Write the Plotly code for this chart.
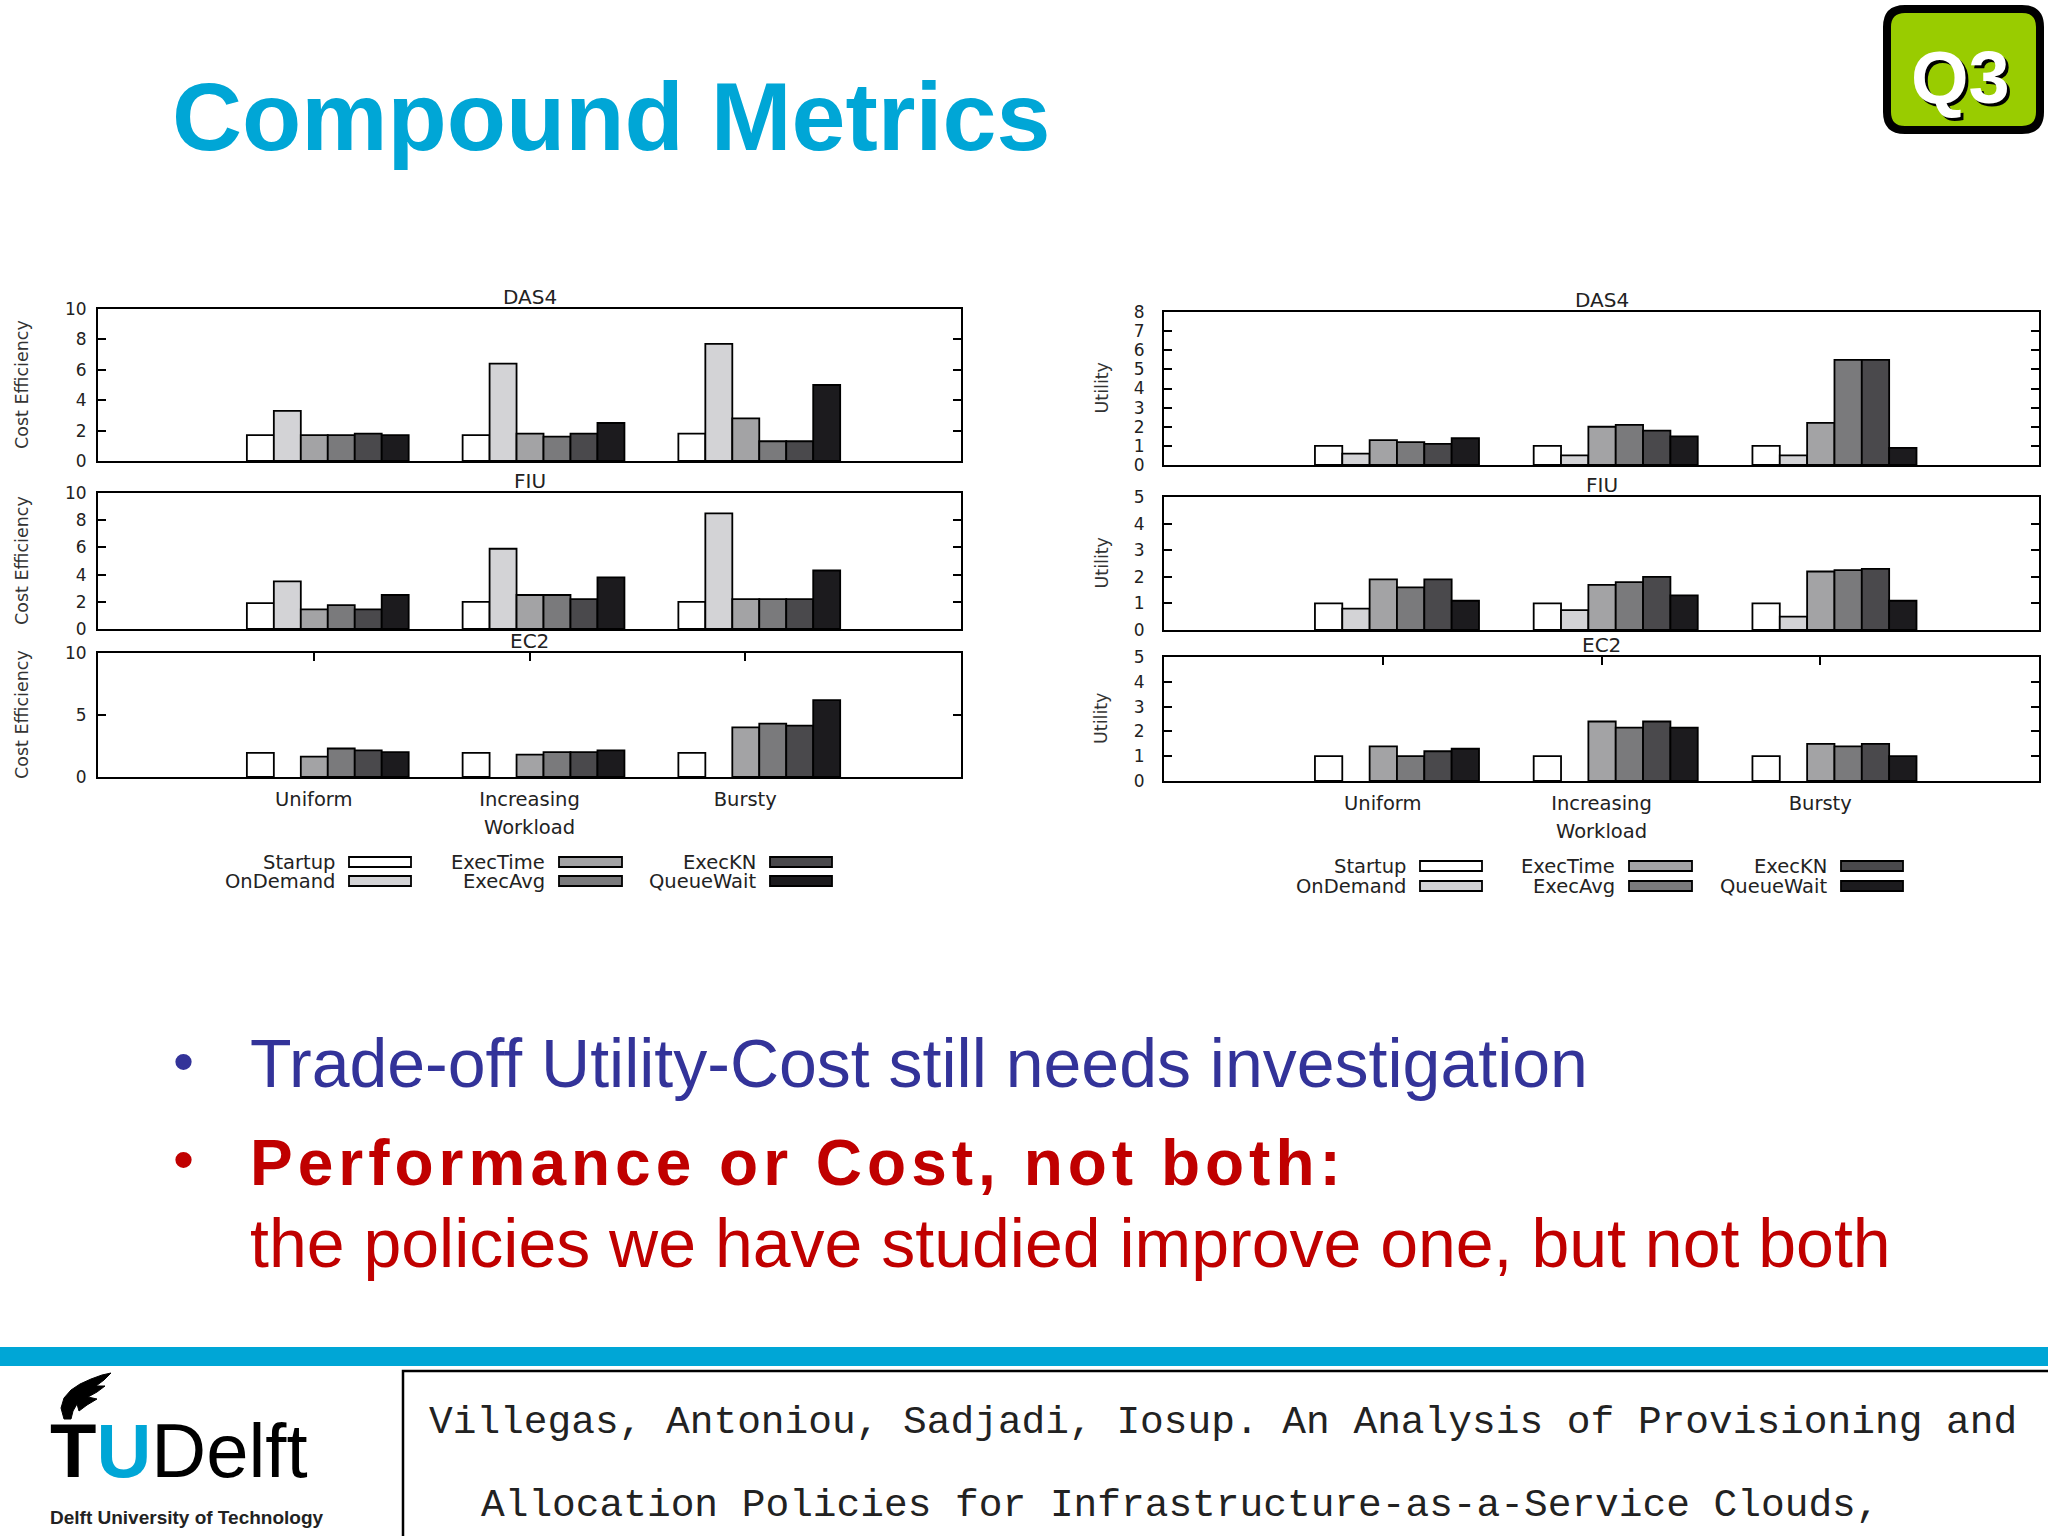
import plotly.graph_objects as go

# ---------------- data ----------------
categories = ["Uniform", "Increasing", "Bursty"]
policies = ["Startup", "OnDemand", "ExecTime", "ExecAvg", "ExecKN", "QueueWait"]
policy_colors = ["#ffffff", "#d3d3d6", "#a3a3a5", "#7a7a7c", "#4a494c", "#1c1b1e"]

# Cost Efficiency (rows follow `policies`, columns follow `categories`)
cost_das4 = [
    [1.7, 1.7, 1.8],
    [3.3, 6.4, 7.7],
    [1.7, 1.8, 2.8],
    [1.7, 1.6, 1.3],
    [1.8, 1.8, 1.3],
    [1.7, 2.5, 5.0],
]
cost_fiu = [
    [1.9, 2.0, 2.0],
    [3.5, 5.9, 8.5],
    [1.45, 2.5, 2.2],
    [1.75, 2.5, 2.2],
    [1.45, 2.2, 2.2],
    [2.5, 3.8, 4.3],
]
cost_ec2 = [
    [1.95, 1.95, 1.95],
    [None, None, None],
    [1.65, 1.8, 4.0],
    [2.3, 2.0, 4.3],
    [2.15, 2.0, 4.15],
    [2.0, 2.15, 6.2],
]
# Utility
util_das4 = [
    [1.0, 1.0, 1.0],
    [0.6, 0.5, 0.5],
    [1.3, 2.0, 2.2],
    [1.2, 2.1, 5.5],
    [1.1, 1.8, 5.5],
    [1.4, 1.5, 0.9],
]
util_fiu = [
    [1.0, 1.0, 1.0],
    [0.8, 0.75, 0.5],
    [1.9, 1.7, 2.2],
    [1.6, 1.8, 2.25],
    [1.9, 2.0, 2.3],
    [1.1, 1.3, 1.1],
]
util_ec2 = [
    [1.0, 1.0, 1.0],
    [None, None, None],
    [1.4, 2.4, 1.5],
    [1.0, 2.15, 1.4],
    [1.2, 2.4, 1.5],
    [1.3, 2.15, 1.0],
]
panel_titles = ["DAS4", "FIU", "EC2"]
left_ytitle = "Cost Efficiency"
right_ytitle = "Utility"
xtitle = "Workload"
left_ranges = [(10, 2), (10, 2), (10, 5)]
right_ranges = [(8, 1), (5, 1), (5, 1)]

# ---------------- geometry helpers ----------------
W, H = 2048, 1536
def px(x):
    return x / W
def py(y):
    return 1 - y / H

FONT = "Liberation Sans, Arial, sans-serif"
CFONT = "DejaVu Sans, sans-serif"
CHART_TXT = "#222222"

left_box_x = (98, 961)
right_box_x = (1164, 2039)
left_rows = [(309, 461), (493, 629), (653, 777)]
right_rows = [(312, 465), (497, 630), (657, 781)]

BAR_W = 0.125
BAR_START = -0.31

fig = go.Figure()
layout_axes = {}
annotations = []
shapes = []

panels = [
    (cost_das4, left_box_x, left_rows[0], left_ranges[0], 0, "left"),
    (cost_fiu, left_box_x, left_rows[1], left_ranges[1], 1, "left"),
    (cost_ec2, left_box_x, left_rows[2], left_ranges[2], 2, "left"),
    (util_das4, right_box_x, right_rows[0], right_ranges[0], 0, "right"),
    (util_fiu, right_box_x, right_rows[1], right_ranges[1], 1, "right"),
    (util_ec2, right_box_x, right_rows[2], right_ranges[2], 2, "right"),
]

for k, (data, bx, by, (ymax, dt), row, side) in enumerate(panels, start=1):
    xid = "x" if k == 1 else f"x{k}"
    yid = "y" if k == 1 else f"y{k}"
    for i, pol in enumerate(policies):
        fig.add_trace(go.Bar(
            x=categories, y=data[i], name=pol,
            marker=dict(color=policy_colors[i], line=dict(color="black", width=1.8)),
            offset=BAR_START + i * BAR_W, width=BAR_W,
            xaxis=xid, yaxis=yid, showlegend=False,
        ))
    bottom = row == 2
    xa = dict(
        domain=[px(bx[0]), px(bx[1])], anchor=yid, type="category",
        categoryorder="array", categoryarray=categories, range=[-1, 3],
        showline=True, linecolor="black", linewidth=2,
        showgrid=False, zeroline=False, automargin=False,
    )
    if bottom:
        xa.update(ticks="inside", ticklen=8, tickwidth=2, tickcolor="black",
                  mirror="ticks", showticklabels=True, layer="below traces",
                  tickfont=dict(family=CFONT, size=19.5, color=CHART_TXT),
                  ticklabelstandoff=4)
    else:
        xa.update(ticks="", mirror=True, showticklabels=False)
    ya = dict(
        domain=[py(by[1]), py(by[0])], anchor=xid, range=[0, ymax],
        tick0=0, dtick=dt, showline=True, linecolor="black", linewidth=2,
        mirror="ticks", ticks="inside", ticklen=8, tickwidth=2, tickcolor="black",
        showgrid=False, zeroline=False, automargin=False,
        tickfont=dict(family=CFONT, size=17, color=CHART_TXT),
        ticklabelstandoff=6 if side == "left" else 14,
    )
    layout_axes["xaxis" if k == 1 else f"xaxis{k}"] = xa
    layout_axes["yaxis" if k == 1 else f"yaxis{k}"] = ya

    cx = (bx[0] + bx[1]) / 2
    annotations.append(dict(text=panel_titles[row], x=px(cx), y=py(by[0] - 12),
                            xref="paper", yref="paper", showarrow=False,
                            xanchor="center", yanchor="middle",
                            font=dict(family=CFONT, size=20, color=CHART_TXT)))
    ytx = 22 if side == "left" else 1101
    annotations.append(dict(text=left_ytitle if side == "left" else right_ytitle,
                            x=px(ytx), y=py((by[0] + by[1]) / 2),
                            xref="paper", yref="paper", showarrow=False,
                            textangle=-90, xanchor="center", yanchor="middle",
                            font=dict(family=CFONT, size=17.5, color="#333333")))
    if bottom:
        annotations.append(dict(text=xtitle, x=px(cx), y=py(by[1] + 50),
                                xref="paper", yref="paper", showarrow=False,
                                xanchor="center", yanchor="middle",
                                font=dict(family=CFONT, size=19.5, color=CHART_TXT)))

# ---------------- custom legends ----------------
legend_specs = [
    ([(349, 411), (559, 622), (770, 832)], [862, 881]),
    ([(1420, 1482), (1629, 1692), (1841, 1903)], [866, 886]),
]
for cols, rows in legend_specs:
    for i, pol in enumerate(policies):
        c0, c1 = cols[i // 2]
        yc = rows[i % 2]
        shapes.append(dict(type="rect", xref="paper", yref="paper",
                           x0=px(c0), x1=px(c1), y0=py(yc + 5), y1=py(yc - 5),
                           line=dict(color="black", width=1.8),
                           fillcolor=policy_colors[i]))
        annotations.append(dict(text=pol, x=px(c0 - 12), y=py(yc),
                                xref="paper", yref="paper", showarrow=False,
                                xanchor="right", yanchor="middle",
                                font=dict(family=CFONT, size=19.5, color=CHART_TXT)))

# ---------------- slide decorations ----------------
annotations.append(dict(text="<b>Compound Metrics</b>", x=px(170), y=py(116),
                        xref="paper", yref="paper", showarrow=False,
                        xanchor="left", yanchor="middle",
                        font=dict(family=FONT, size=97, color="#00a6d6")))

def rounded_path(x0, y0, x1, y1, r):
    pts = [
        f"M {px(x0 + r)} {py(y0)}", f"L {px(x1 - r)} {py(y0)}",
        f"Q {px(x1)} {py(y0)} {px(x1)} {py(y0 + r)}", f"L {px(x1)} {py(y1 - r)}",
        f"Q {px(x1)} {py(y1)} {px(x1 - r)} {py(y1)}", f"L {px(x0 + r)} {py(y1)}",
        f"Q {px(x0)} {py(y1)} {px(x0)} {py(y1 - r)}", f"L {px(x0)} {py(y0 + r)}",
        f"Q {px(x0)} {py(y0)} {px(x0 + r)} {py(y0)}", "Z",
    ]
    return " ".join(pts)

shapes.append(dict(type="path", xref="paper", yref="paper",
                   path=rounded_path(1887, 9, 2040, 130, 18),
                   line=dict(color="black", width=8), fillcolor="#99cc00"))
annotations.append(dict(text="<b>Q3</b>", x=px(1963), y=py(80),
                        xref="paper", yref="paper", showarrow=False,
                        xanchor="center", yanchor="middle",
                        font=dict(family=FONT, size=74, color="black")))
annotations.append(dict(text="<b>Q3</b>", x=px(1960), y=py(77),
                        xref="paper", yref="paper", showarrow=False,
                        xanchor="center", yanchor="middle",
                        font=dict(family=FONT, size=74, color="white")))

BLUE = "#333399"
RED = "#c00000"
annotations.append(dict(text="•", x=px(183), y=py(1061), xref="paper", yref="paper",
                        showarrow=False, xanchor="center", yanchor="middle",
                        font=dict(family=FONT, size=60, color=BLUE)))
annotations.append(dict(text="Trade-off Utility-Cost still needs investigation",
                        x=px(248), y=py(1063), xref="paper", yref="paper",
                        showarrow=False, xanchor="left", yanchor="middle",
                        font=dict(family=FONT, size=68, color=BLUE)))
annotations.append(dict(text="•", x=px(183), y=py(1159), xref="paper", yref="paper",
                        showarrow=False, xanchor="center", yanchor="middle",
                        font=dict(family=FONT, size=60, color=RED)))
annotations.append(dict(text="<b><span style='letter-spacing:5px'>Performance or Cost, not both:</span></b>",
                        x=px(248), y=py(1163), xref="paper", yref="paper",
                        showarrow=False, xanchor="left", yanchor="middle",
                        font=dict(family=FONT, size=64, color=RED)))
annotations.append(dict(text="the policies we have studied improve one, but not both",
                        x=px(248), y=py(1243), xref="paper", yref="paper",
                        showarrow=False, xanchor="left", yanchor="middle",
                        font=dict(family=FONT, size=68, color=RED)))

shapes.append(dict(type="rect", xref="paper", yref="paper", x0=0, x1=1,
                   y0=py(1366), y1=py(1347), line=dict(width=0), fillcolor="#00a6d6"))
shapes.append(dict(type="rect", xref="paper", yref="paper", x0=px(403), x1=px(2060),
                   y0=py(1545), y1=py(1371), line=dict(color="black", width=2.5),
                   fillcolor="white"))
MONO = "Liberation Mono, Courier New, monospace"
annotations.append(dict(text="Villegas, Antoniou, Sadjadi, Iosup. An Analysis of Provisioning and",
                        x=px(427), y=py(1422), xref="paper", yref="paper",
                        showarrow=False, xanchor="left", yanchor="middle",
                        font=dict(family=MONO, size=39.5, color="#222222")))
annotations.append(dict(text="Allocation Policies for Infrastructure-as-a-Service Clouds,",
                        x=px(479), y=py(1505), xref="paper", yref="paper",
                        showarrow=False, xanchor="left", yanchor="middle",
                        font=dict(family=MONO, size=39.5, color="#222222")))

flame_pts = [(64, 1419), (61, 1408), (64, 1398), (71, 1390), (80, 1384), (91, 1379),
             (102, 1375), (111, 1373), (104, 1380), (96, 1386), (105, 1386), (97, 1392),
             (88, 1397), (97, 1399), (87, 1405), (79, 1411), (77, 1404), (73, 1411),
             (71, 1419)]
flame_path = "M " + " L ".join(f"{px(x)} {py(y)}" for x, y in flame_pts) + " Z"
shapes.append(dict(type="path", xref="paper", yref="paper", path=flame_path,
                   line=dict(color="black", width=1), fillcolor="black"))
annotations.append(dict(text="<b>T</b><b><span style='color:#00a6d6'>U</span></b>Delft",
                        x=px(48), y=py(1450), xref="paper", yref="paper",
                        showarrow=False, xanchor="left", yanchor="middle",
                        font=dict(family=FONT, size=76, color="black")))
annotations.append(dict(text="<b>Delft University of Technology</b>",
                        x=px(48), y=py(1517), xref="paper", yref="paper",
                        showarrow=False, xanchor="left", yanchor="middle",
                        font=dict(family=FONT, size=19, color="#222222")))

fig.update_layout(
    width=W, height=H, margin=dict(l=0, r=0, t=0, b=0, autoexpand=False),
    paper_bgcolor="white", plot_bgcolor="white",
    barmode="overlay", showlegend=False,
    annotations=annotations, shapes=shapes,
    **layout_axes,
)

fig.write_html("out.html", config={"displayModeBar": False},
               post_script="document.body.style.margin='0';")
